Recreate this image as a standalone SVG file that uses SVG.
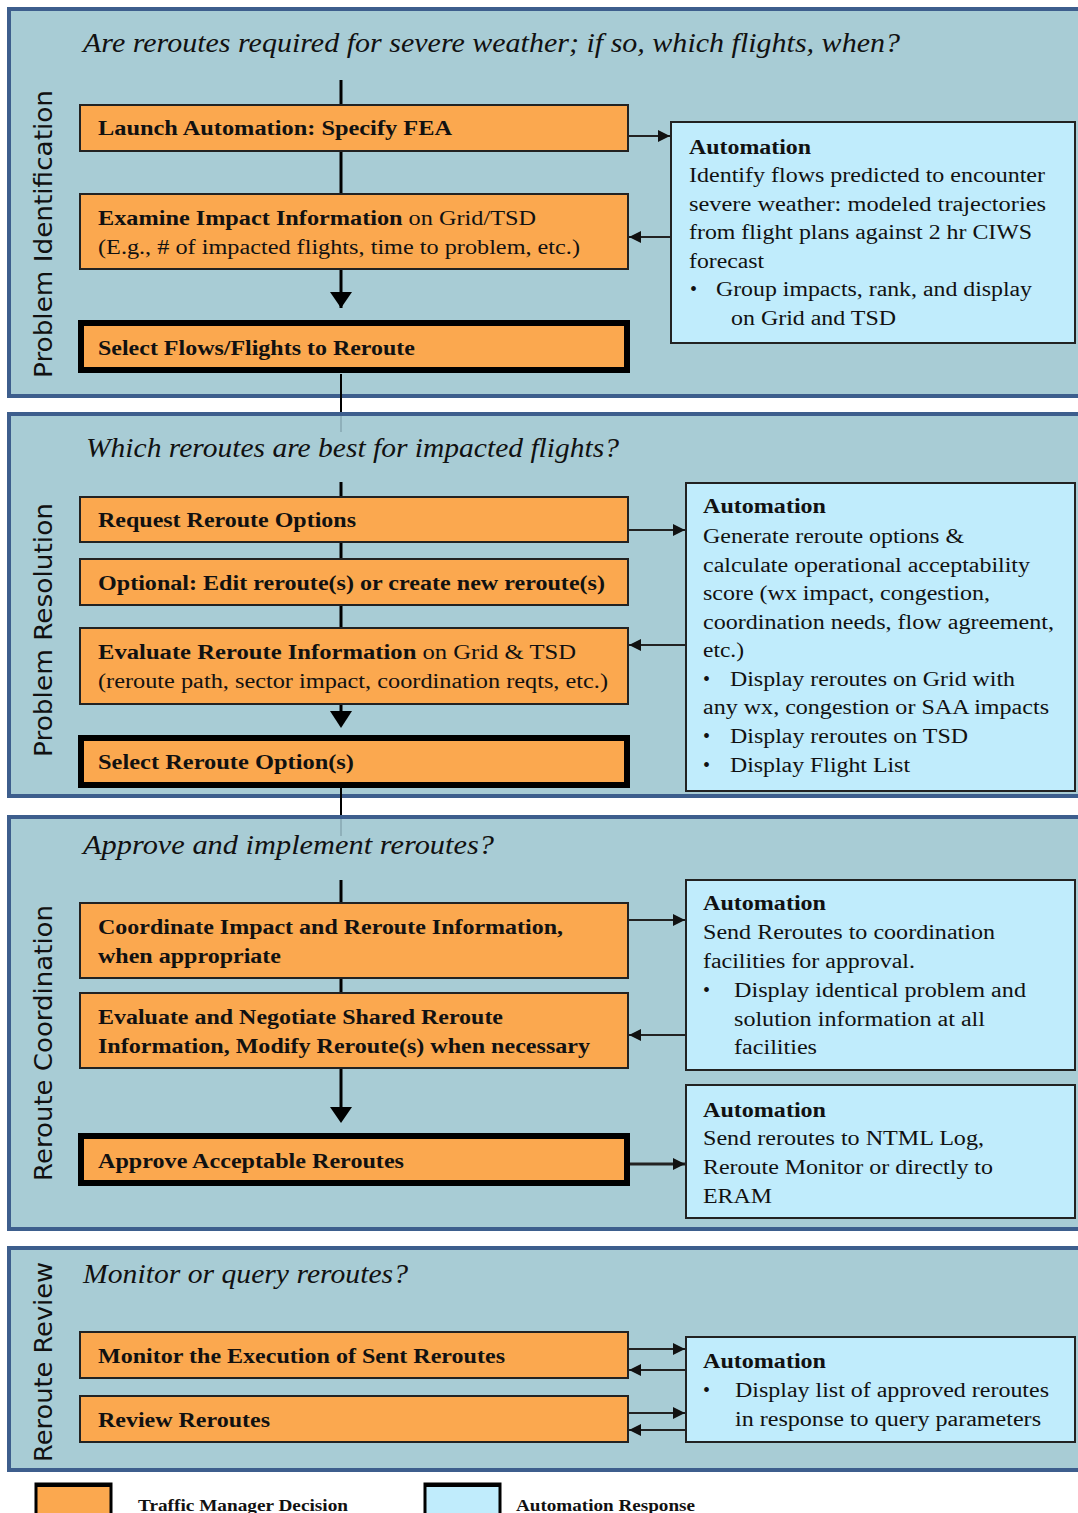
<svg xmlns="http://www.w3.org/2000/svg" width="1078" height="1513" viewBox="0 0 1078 1513">
<style>
.sec{fill:#a8ccd5;stroke:#3d5e8d;stroke-width:4}
.tm{fill:#fba84f;stroke:#222;stroke-width:2}
.tmk{fill:#fba84f;stroke:#000;stroke-width:6}
.au{fill:#c0ecfc;stroke:#222;stroke-width:2}
.lab{font-family:"DejaVu Sans",Verdana,sans-serif;font-size:25px;fill:#111}
.q{font-family:"Liberation Serif","Times New Roman",serif;font-style:italic;font-size:27px;fill:#111}
.b{font-family:"Liberation Serif","Times New Roman",serif;font-weight:bold;font-size:20px;fill:#111}
.t{font-family:"Liberation Serif","Times New Roman",serif;font-size:20px;fill:#111}
.n{font-weight:normal}
.lg{font-family:"Liberation Serif","Times New Roman",serif;font-weight:bold;font-size:17px;fill:#111}
.ln{stroke:#000;stroke-width:3;fill:none}
.ah{stroke:#222;stroke-width:2;fill:none}
</style>
<defs>
<marker id="dn" viewBox="0 0 10 10" refX="10" refY="5" markerWidth="8" markerHeight="8" markerUnits="userSpaceOnUse" orient="auto"><path d="M0,0 L10,5 L0,10 Z" fill="#000"/></marker>
<marker id="hr" viewBox="0 0 10 10" refX="10" refY="5" markerWidth="12" markerHeight="12" markerUnits="userSpaceOnUse" orient="auto"><path d="M0,0 L10,5 L0,10 Z" fill="#111"/></marker>
</defs>

<g id="sections">
<rect class="sec" x="9" y="9" width="1080" height="387"/>
<rect class="sec" x="9" y="414" width="1080" height="382"/>
<rect class="sec" x="9" y="817" width="1080" height="412"/>
<rect class="sec" x="9" y="1248" width="1080" height="222"/>
<text class="lab" transform="translate(52,234) rotate(-90)" text-anchor="middle" textLength="288" lengthAdjust="spacingAndGlyphs">Problem Identification</text>
<text class="lab" transform="translate(52,630) rotate(-90)" text-anchor="middle" textLength="254" lengthAdjust="spacingAndGlyphs">Problem Resolution</text>
<text class="lab" transform="translate(52,1043) rotate(-90)" text-anchor="middle" textLength="276" lengthAdjust="spacingAndGlyphs">Reroute Coordination</text>
<text class="lab" transform="translate(52,1362) rotate(-90)" text-anchor="middle" textLength="200" lengthAdjust="spacingAndGlyphs">Reroute Review</text>
<text class="q" x="83" y="52" textLength="817" lengthAdjust="spacingAndGlyphs">Are reroutes required for severe weather;  if so, which flights, when?</text>
<text class="q" x="86" y="457" textLength="533" lengthAdjust="spacingAndGlyphs">Which reroutes are best for impacted flights?</text>
<text class="q" x="83" y="854" textLength="411" lengthAdjust="spacingAndGlyphs">Approve and implement  reroutes?</text>
<text class="q" x="83" y="1283" textLength="325" lengthAdjust="spacingAndGlyphs">Monitor or query reroutes?</text>
</g>

<g id="connectors">
<line class="ln" x1="341" y1="80" x2="341" y2="105"/>
<line class="ln" x1="341" y1="151" x2="341" y2="194"/>
<line class="ln" x1="341" y1="269" x2="341" y2="308" marker-end="url(#dn)" style="stroke-width:3"/>
<path d="M330,292 L352,292 L341,308 Z" fill="#000"/>
<line class="ln" x1="341" y1="374" x2="341" y2="412" style="stroke-width:2"/>
<line x1="341" y1="416" x2="341" y2="432" stroke="#8fb0ba" stroke-width="2"/>
<line class="ah" x1="628" y1="136" x2="670" y2="136" marker-end="url(#hr)"/>
<line class="ah" x1="671" y1="237" x2="629" y2="237" marker-end="url(#hr)"/>

<line class="ln" x1="341" y1="482" x2="341" y2="497"/>
<line class="ln" x1="341" y1="542" x2="341" y2="559"/>
<line class="ln" x1="341" y1="605" x2="341" y2="628"/>
<line class="ln" x1="341" y1="704" x2="341" y2="714"/>
<path d="M330,711 L352,711 L341,728 Z" fill="#000"/>
<line class="ln" x1="341" y1="775" x2="341" y2="815" style="stroke-width:2"/>
<line x1="341" y1="819" x2="341" y2="836" stroke="#8fb0ba" stroke-width="2"/>
<line class="ah" x1="628" y1="530" x2="685" y2="530" marker-end="url(#hr)"/>
<line class="ah" x1="686" y1="645" x2="629" y2="645" marker-end="url(#hr)"/>

<line class="ln" x1="341" y1="880" x2="341" y2="903"/>
<line class="ln" x1="341" y1="978" x2="341" y2="993"/>
<line class="ln" x1="341" y1="1068" x2="341" y2="1110"/>
<path d="M330,1107 L352,1107 L341,1123 Z" fill="#000"/>
<line class="ah" x1="628" y1="920" x2="685" y2="920" marker-end="url(#hr)"/>
<line class="ah" x1="686" y1="1035" x2="629" y2="1035" marker-end="url(#hr)"/>
<line class="ah" x1="630" y1="1164" x2="685" y2="1164" marker-end="url(#hr)" style="stroke-width:3"/>

<line class="ah" x1="628" y1="1349" x2="685" y2="1349" marker-end="url(#hr)"/>
<line class="ah" x1="686" y1="1370" x2="629" y2="1370" marker-end="url(#hr)"/>
<line class="ah" x1="628" y1="1413" x2="685" y2="1413" marker-end="url(#hr)"/>
<line class="ah" x1="686" y1="1430" x2="629" y2="1430" marker-end="url(#hr)"/>
</g>

<g id="n1">
<rect class="tm" x="80" y="105" width="548" height="46"/>
<text class="b" x="98" y="135" textLength="354" lengthAdjust="spacingAndGlyphs">Launch Automation:  Specify FEA</text>
</g>
<g id="n2">
<rect class="tm" x="80" y="194" width="548" height="75"/>
<text class="b" x="98" y="225" textLength="438" lengthAdjust="spacingAndGlyphs">Examine  Impact Information<tspan class="n"> on Grid/TSD</tspan></text>
<text class="t" x="98" y="254" textLength="482" lengthAdjust="spacingAndGlyphs">(E.g., # of  impacted flights, time to problem, etc.)</text>
</g>
<g id="n3">
<rect class="tmk" x="81" y="323" width="546" height="47"/>
<text class="b" x="98" y="355" textLength="317" lengthAdjust="spacingAndGlyphs">Select Flows/Flights to Reroute</text>
</g>
<g id="a1">
<rect class="au" x="671" y="122" width="404" height="221"/>
<text class="b" x="689" y="154" textLength="122" lengthAdjust="spacingAndGlyphs">Automation</text>
<text class="t" x="689" y="182" textLength="356" lengthAdjust="spacingAndGlyphs">Identify flows predicted to encounter</text>
<text class="t" x="689" y="211" textLength="357" lengthAdjust="spacingAndGlyphs">severe weather:  modeled trajectories</text>
<text class="t" x="689" y="239" textLength="343" lengthAdjust="spacingAndGlyphs">from flight plans against 2 hr CIWS</text>
<text class="t" x="689" y="268" textLength="75" lengthAdjust="spacingAndGlyphs">forecast</text>
<text class="t" x="690" y="296">•</text>
<text class="t" x="716" y="296" textLength="316" lengthAdjust="spacingAndGlyphs">Group impacts, rank, and display</text>
<text class="t" x="731" y="325" textLength="165" lengthAdjust="spacingAndGlyphs">on Grid and TSD</text>
</g>

<g id="n4">
<rect class="tm" x="80" y="497" width="548" height="45"/>
<text class="b" x="98" y="527" textLength="258" lengthAdjust="spacingAndGlyphs">Request Reroute Options</text>
</g>
<g id="n5">
<rect class="tm" x="80" y="559" width="548" height="46"/>
<text class="b" x="98" y="590" textLength="507" lengthAdjust="spacingAndGlyphs">Optional: Edit reroute(s) or create new reroute(s)</text>
</g>
<g id="n6">
<rect class="tm" x="80" y="628" width="548" height="76"/>
<text class="b" x="98" y="659" textLength="478" lengthAdjust="spacingAndGlyphs">Evaluate  Reroute  Information<tspan class="n"> on Grid &amp; TSD</tspan></text>
<text class="t" x="98" y="688" textLength="510" lengthAdjust="spacingAndGlyphs">(reroute path, sector impact, coordination  reqts, etc.)</text>
</g>
<g id="n7">
<rect class="tmk" x="81" y="738" width="546" height="47"/>
<text class="b" x="98" y="769" textLength="256" lengthAdjust="spacingAndGlyphs">Select  Reroute Option(s)</text>
</g>
<g id="a2">
<rect class="au" x="686" y="483" width="389" height="308"/>
<text class="b" x="703" y="513" textLength="123" lengthAdjust="spacingAndGlyphs">Automation</text>
<text class="t" x="703" y="543" textLength="261" lengthAdjust="spacingAndGlyphs">Generate reroute options &amp;</text>
<text class="t" x="703" y="572" textLength="327" lengthAdjust="spacingAndGlyphs">calculate operational acceptability</text>
<text class="t" x="703" y="600" textLength="287" lengthAdjust="spacingAndGlyphs">score (wx impact, congestion,</text>
<text class="t" x="703" y="629" textLength="351" lengthAdjust="spacingAndGlyphs">coordination needs, flow agreement,</text>
<text class="t" x="703" y="657" textLength="41" lengthAdjust="spacingAndGlyphs">etc.)</text>
<text class="t" x="703" y="686">•</text>
<text class="t" x="730" y="686" textLength="285" lengthAdjust="spacingAndGlyphs">Display reroutes on Grid with</text>
<text class="t" x="703" y="714" textLength="346" lengthAdjust="spacingAndGlyphs">any wx, congestion or SAA impacts</text>
<text class="t" x="703" y="743">•</text>
<text class="t" x="730" y="743" textLength="238" lengthAdjust="spacingAndGlyphs">Display reroutes on TSD</text>
<text class="t" x="703" y="772">•</text>
<text class="t" x="730" y="772" textLength="180" lengthAdjust="spacingAndGlyphs">Display Flight List</text>
</g>

<g id="n8">
<rect class="tm" x="80" y="903" width="548" height="75"/>
<text class="b" x="98" y="934" textLength="465" lengthAdjust="spacingAndGlyphs">Coordinate Impact and Reroute Information,</text>
<text class="b" x="98" y="963" textLength="183" lengthAdjust="spacingAndGlyphs">when appropriate</text>
</g>
<g id="n9">
<rect class="tm" x="80" y="993" width="548" height="75"/>
<text class="b" x="98" y="1024" textLength="405" lengthAdjust="spacingAndGlyphs">Evaluate and Negotiate Shared Reroute</text>
<text class="b" x="98" y="1053" textLength="492" lengthAdjust="spacingAndGlyphs">Information, Modify Reroute(s) when necessary</text>
</g>
<g id="n10">
<rect class="tmk" x="81" y="1136" width="546" height="47"/>
<text class="b" x="98" y="1168" textLength="306" lengthAdjust="spacingAndGlyphs">Approve Acceptable Reroutes</text>
</g>
<g id="a3">
<rect class="au" x="686" y="880" width="389" height="190"/>
<text class="b" x="703" y="910" textLength="123" lengthAdjust="spacingAndGlyphs">Automation</text>
<text class="t" x="703" y="939" textLength="292" lengthAdjust="spacingAndGlyphs">Send Reroutes to coordination</text>
<text class="t" x="703" y="968" textLength="212" lengthAdjust="spacingAndGlyphs">facilities for approval.</text>
<text class="t" x="703" y="997">•</text>
<text class="t" x="734" y="997" textLength="292" lengthAdjust="spacingAndGlyphs">Display identical problem and</text>
<text class="t" x="734" y="1026" textLength="251" lengthAdjust="spacingAndGlyphs">solution information at all</text>
<text class="t" x="734" y="1054" textLength="83" lengthAdjust="spacingAndGlyphs">facilities</text>
</g>
<g id="a4">
<rect class="au" x="686" y="1085" width="389" height="133"/>
<text class="b" x="703" y="1117" textLength="123" lengthAdjust="spacingAndGlyphs">Automation</text>
<text class="t" x="703" y="1145" textLength="281" lengthAdjust="spacingAndGlyphs">Send reroutes to NTML Log,</text>
<text class="t" x="703" y="1174" textLength="290" lengthAdjust="spacingAndGlyphs">Reroute Monitor or directly to</text>
<text class="t" x="703" y="1203" textLength="69" lengthAdjust="spacingAndGlyphs">ERAM</text>
</g>

<g id="n11">
<rect class="tm" x="80" y="1332" width="548" height="46"/>
<text class="b" x="98" y="1363" textLength="407" lengthAdjust="spacingAndGlyphs">Monitor the Execution of Sent Reroutes</text>
</g>
<g id="n12">
<rect class="tm" x="80" y="1396" width="548" height="46"/>
<text class="b" x="98" y="1427" textLength="172" lengthAdjust="spacingAndGlyphs">Review Reroutes</text>
</g>
<g id="a5">
<rect class="au" x="686" y="1337" width="389" height="105"/>
<text class="b" x="703" y="1368" textLength="123" lengthAdjust="spacingAndGlyphs">Automation</text>
<text class="t" x="703" y="1397">•</text>
<text class="t" x="735" y="1397" textLength="314" lengthAdjust="spacingAndGlyphs">Display list of approved reroutes</text>
<text class="t" x="735" y="1426" textLength="306" lengthAdjust="spacingAndGlyphs">in response to query parameters</text>
</g>

<g id="legend">
<rect x="36" y="1484" width="75" height="32" fill="#fba84f" stroke="#000" stroke-width="3"/>
<line x1="36" y1="1485" x2="111" y2="1485" stroke="#000" stroke-width="4"/>
<text class="lg" x="138" y="1511" textLength="210" lengthAdjust="spacingAndGlyphs">Traffic Manager Decision</text>
<rect x="425" y="1484" width="75" height="32" fill="#c0ecfc" stroke="#000" stroke-width="3"/>
<line x1="425" y1="1485" x2="500" y2="1485" stroke="#000" stroke-width="4"/>
<text class="lg" x="516" y="1511" textLength="179" lengthAdjust="spacingAndGlyphs">Automation Response</text>
</g>
</svg>
